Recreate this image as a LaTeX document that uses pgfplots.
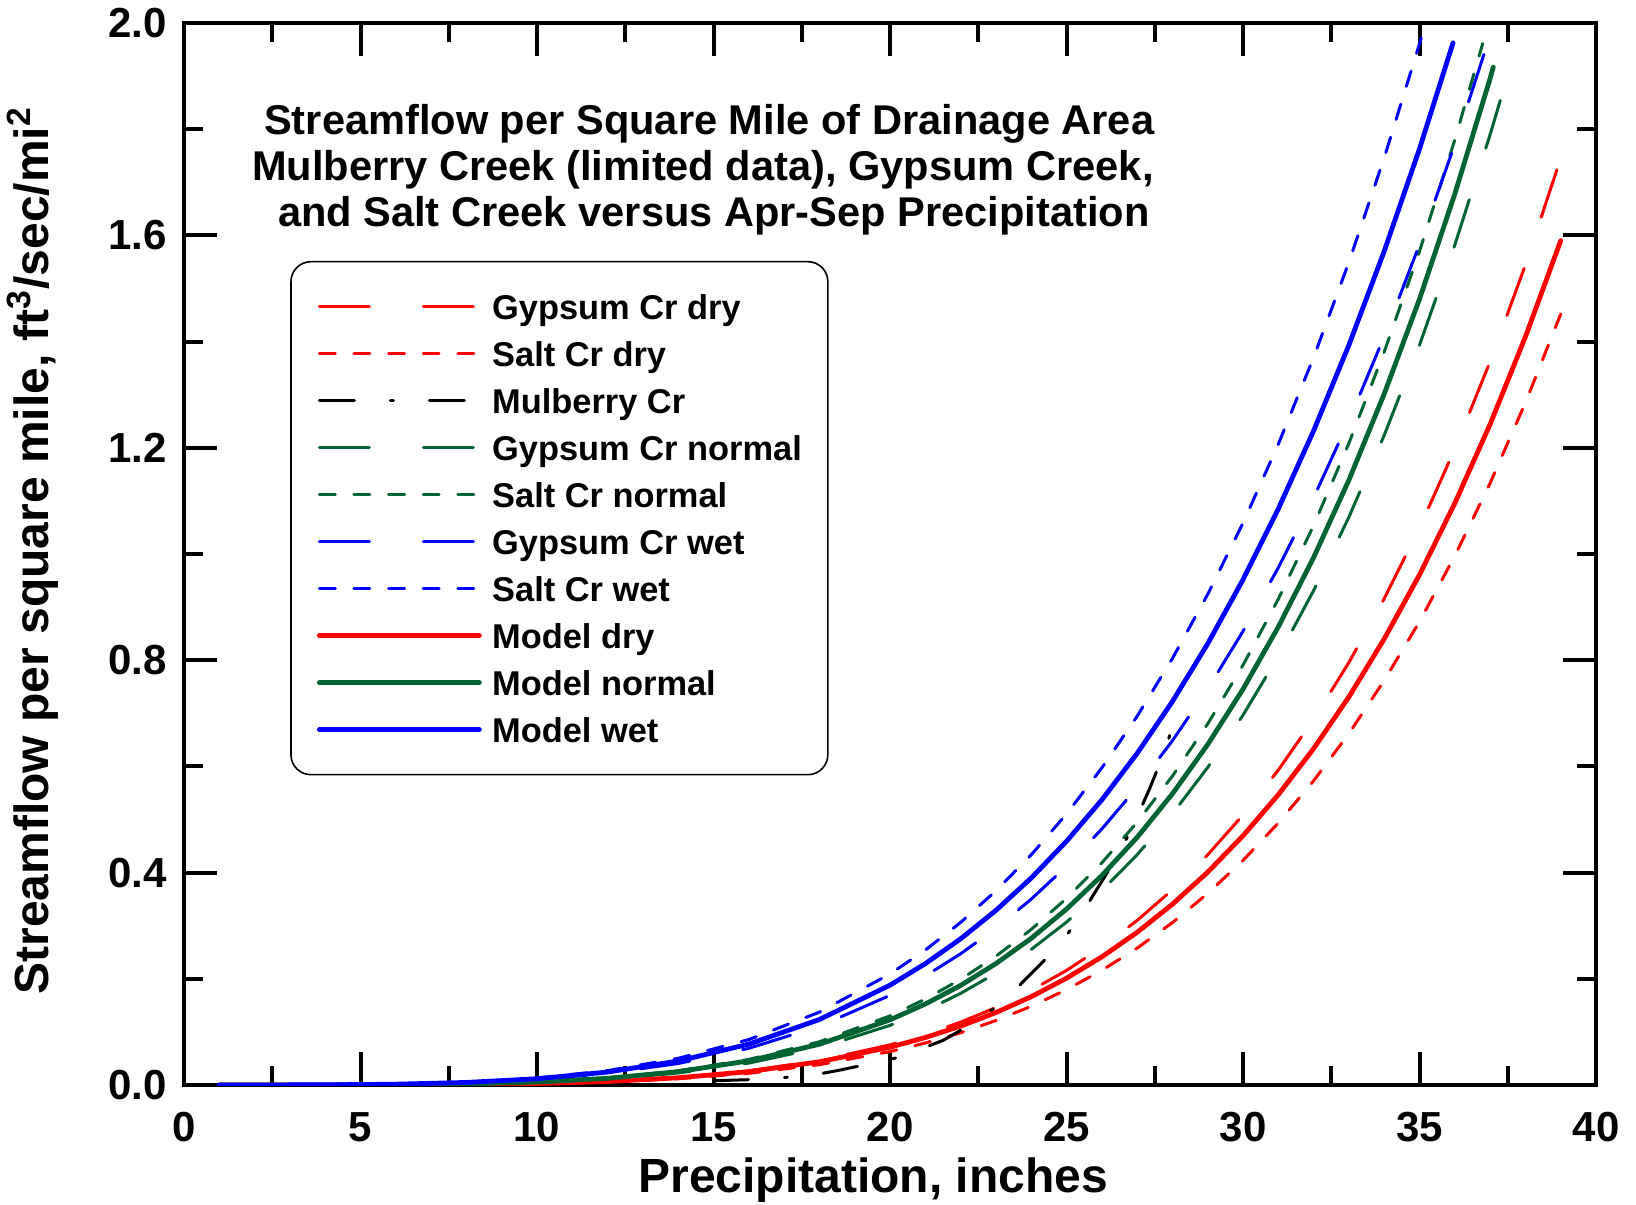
\documentclass[border=0pt]{standalone}
\usepackage{fontspec}
\setmainfont{Liberation Sans}
\usepackage{pgfplots}
\pgfplotsset{compat=1.18}
\definecolor{dgreen}{RGB}{0,100,50}
\definecolor{pred}{RGB}{255,0,0}
\definecolor{pblue}{RGB}{0,0,255}
\newcommand\tickfont{\fontsize{21}{24}\selectfont\bfseries}
\newcommand\labfont{\fontsize{24}{28}\selectfont\bfseries}
\newcommand\titfont{\fontsize{20.8}{23}\selectfont\bfseries}
\newcommand\legfont{\fontsize{17.2}{20}\selectfont\bfseries}
\tikzset{
  gyp/.style={line width=1.5pt, line cap=round, dash pattern=on 25pt off 27pt},
  salt/.style={line width=1.5pt, line cap=round, dash pattern=on 8pt off 9.3pt},
  mulb/.style={line width=1.5pt, line cap=round, dash pattern=on 17.5pt off 18pt on 1.5pt off 18pt},
  modl/.style={line width=2.4pt, line cap=round, line join=round, solid}
}
\begin{document}
\begin{tikzpicture}
\useasboundingbox (-92pt,-59.5pt) rectangle (726pt,542.5pt);
\begin{axis}[
  scale only axis, width=706pt, height=531pt,
  at={(0pt,0pt)}, anchor=south west,
  xmin=0, xmax=40, ymin=0, ymax=2,
  xtick={0,5,...,40}, ytick={0,0.4,0.8,1.2,1.6,2.0},
  minor x tick num=1, minor y tick num=1,
  tick align=inside,
  major tick length=16.5pt, minor tick length=9.5pt,
  tick style={line width=2pt, black},
  axis line style={line width=2.2pt},
  /pgf/number format/assume math mode=true,
  tick label style={font=\tickfont},
  xticklabel style={anchor=north, inner sep=0pt, yshift=-13.5pt},
  yticklabel style={anchor=east, inner sep=0pt, xshift=-8.3pt,
    /pgf/number format/.cd, fixed, fixed zerofill, precision=1},
  xlabel={Precipitation, inches},
  xlabel style={at={(axis description cs:0.488,-0.1013)}, anchor=base, font=\labfont},
  ylabel={Streamflow per square mile, ft\textsuperscript{3}/sec/mi\textsuperscript{2}},
  ylabel style={at={(axis description cs:-0.096,0.503)}, anchor=base, font=\labfont},
  legend style={at={(axis description cs:0.0752,0.776)}, anchor=north west,
    draw=black, line width=0.8pt, rounded corners=10pt,
    inner xsep=13pt, inner ysep=13.5pt, row sep=5.5pt, column sep=5.2pt,
    font=\legfont,
    nodes={inner sep=0pt, text height=15.5pt, text depth=2.5pt}},
  legend cell align=left,
  legend image code/.code={\draw[#1] (0pt,0pt) -- (80pt,0pt);},
]
% Gypsum Cr dry
\addplot[pred, gyp] coordinates {
(10,0.0029)(12,0.0069)(14,0.0142)(16,0.0265)(18,0.0461)(20,0.0756)(21,0.0951)(22,0.1183)(23,0.1459)(24,0.1782)(25,0.2158)(26,0.2595)(27,0.3099)(28,0.3676)(29,0.4336)(30,0.5085)(31,0.5932)(32,0.6885)(33,0.7958)(34,0.9159)(35,1.0491)(36,1.1978)(37,1.3624)(38,1.5445)(39,1.7453)};
\addlegendentry{Gypsum Cr dry}
% Salt Cr dry
\addplot[pred, salt] coordinates {
(10,0.0024)(12,0.0057)(14,0.0118)(16,0.0220)(18,0.0383)(20,0.0629)(21,0.0791)(22,0.0984)(23,0.1214)(24,0.1483)(25,0.1796)(26,0.2159)(27,0.2578)(28,0.3058)(29,0.3607)(30,0.4230)(31,0.4935)(32,0.5728)(33,0.6620)(34,0.7619)(35,0.8727)(36,0.9965)(37,1.1334)(38,1.2849)(39,1.4519)};
\addlegendentry{Salt Cr dry}
% Mulberry Cr
\addplot[black, mulb] coordinates {
(15.0,0.008)(16.0,0.010)(17.0,0.014)(18.0,0.021)(18.5,0.027)(19.5,0.041)(20.3,0.053)(21.5,0.084)(22.45,0.120)(23.26,0.160)(24.0,0.210)(24.81,0.264)(25.38,0.317)(25.94,0.377)(26.51,0.439)(26.94,0.496)(27.36,0.559)(27.78,0.628)(28.0,0.675)};
\addlegendentry{Mulberry Cr}
% Gypsum Cr normal
\addplot[dgreen, gyp] coordinates {
(10,0.0050)(12,0.0113)(14,0.0226)(16,0.0412)(18,0.0699)(20,0.1123)(21,0.1399)(22,0.1725)(23,0.2107)(24,0.2553)(25,0.3067)(26,0.3659)(27,0.4335)(28,0.5107)(29,0.5981)(30,0.6966)(31,0.8074)(32,0.9312)(33,1.0696)(34,1.2236)(35,1.3936)(36,1.5821)(37,1.7898)(37.52,1.9062)};
\addlegendentry{Gypsum Cr normal}
% Salt Cr normal
\addplot[dgreen, salt] coordinates {
(10,0.0060)(12,0.0134)(14,0.0266)(16,0.0482)(18,0.0814)(20,0.1301)(21,0.1617)(22,0.1989)(23,0.2425)(24,0.2930)(25,0.3514)(26,0.4183)(27,0.4948)(28,0.5818)(29,0.6801)(30,0.7908)(31,0.9151)(32,1.0538)(33,1.2086)(34,1.3806)(35,1.5701)(36,1.7801)(36.79,1.9613)};
\addlegendentry{Salt Cr normal}
% Gypsum Cr wet
\addplot[pblue, gyp] coordinates {
(10,0.0105)(12,0.0219)(14,0.0405)(16,0.0691)(18,0.1107)(20,0.1688)(21,0.2052)(22,0.2471)(23,0.2952)(24,0.3500)(25,0.4121)(26,0.4821)(27,0.5606)(28,0.6484)(29,0.7461)(30,0.8545)(31,0.9742)(32,1.1061)(33,1.2510)(34,1.4097)(35,1.5830)(36,1.7718)(36.98,1.9728)};
\addlegendentry{Gypsum Cr wet}
% Salt Cr wet
\addplot[pblue, salt] coordinates {
(10,0.0131)(12,0.0271)(14,0.0502)(16,0.0856)(18,0.1372)(20,0.2091)(21,0.2541)(22,0.3061)(23,0.3657)(24,0.4335)(25,0.5104)(26,0.5971)(27,0.6944)(28,0.8032)(29,0.9242)(30,1.0584)(31,1.2068)(32,1.3702)(33,1.5496)(34,1.7462)(35,1.9609)(35.05,1.9721)};
\addlegendentry{Salt Cr wet}
% Model dry
\addplot[pred, modl] coordinates {
(1,0)(4,0.0000)(6,0.0003)(8,0.0010)(10,0.0028)(12,0.0066)(14,0.0136)(16,0.0252)(18,0.0437)(20,0.0712)(21,0.0894)(22,0.1109)(23,0.1364)(24,0.1663)(25,0.2011)(26,0.2413)(27,0.2875)(28,0.3405)(29,0.4009)(30,0.4694)(31,0.5467)(32,0.6335)(33,0.7310)(34,0.8401)(35,0.9609)(36,1.0956)(37,1.2445)(38,1.4089)(39,1.5900)};
\addlegendentry{Model dry}
% Model normal
\addplot[dgreen, modl] coordinates {
(1,0)(4,0.0001)(6,0.0006)(8,0.0021)(10,0.0056)(12,0.0126)(14,0.0251)(16,0.0455)(18,0.0768)(20,0.1227)(21,0.1525)(22,0.1875)(23,0.2286)(24,0.2762)(25,0.3313)(26,0.3943)(27,0.4664)(28,0.5484)(29,0.6412)(30,0.7455)(31,0.8627)(32,0.9934)(33,1.1393)(34,1.3015)(35,1.4801)(36,1.6781)(37,1.8955)(37.09,1.917)};
\addlegendentry{Model normal}
% Model wet
\addplot[pblue, modl] coordinates {
(1,0)(4,0.0003)(6,0.0015)(8,0.0048)(10,0.0118)(12,0.0244)(14,0.0451)(16,0.0770)(18,0.1233)(20,0.1880)(21,0.2285)(22,0.2753)(23,0.3288)(24,0.3898)(25,0.4590)(26,0.5369)(27,0.6244)(28,0.7222)(29,0.8311)(30,0.9518)(31,1.0851)(32,1.2321)(33,1.3935)(34,1.5702)(35,1.7632)(35.95,1.9626)};
\addlegendentry{Model wet}
\node[anchor=base, font=\titfont, inner sep=0pt] at (axis cs:14.88,1.7895) {Streamflow per Square Mile of Drainage Area};
\node[anchor=base, font=\titfont, inner sep=0pt] at (axis cs:14.70,1.703) {Mulberry Creek (limited data), Gypsum Creek,};
\node[anchor=base, font=\titfont, inner sep=0pt] at (axis cs:15.01,1.6165) {and Salt Creek versus Apr-Sep Precipitation};
\end{axis}
\end{tikzpicture}
\end{document}
